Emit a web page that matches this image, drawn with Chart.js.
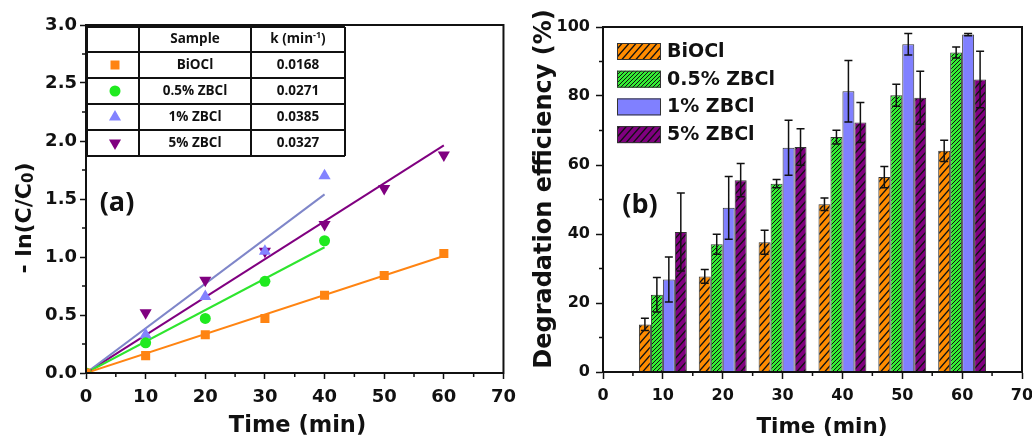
<!DOCTYPE html>
<html>
<head>
<meta charset="utf-8">
<script src="https://cdn.jsdelivr.net/npm/chart.js@4.4.1/dist/chart.umd.min.js"></script>
<style>
  html, body { margin: 0; padding: 0; background: #fff; overflow: hidden; }
  #wrap { position: relative; width: 1032px; height: 440px; }
  canvas { position: absolute; top: 0; }
  #rateChart { left: 0; }
  #effChart { left: 520px; }
</style>
</head>
<body>
<div id="wrap">
  <canvas id="rateChart" width="524" height="440"></canvas>
  <canvas id="effChart" width="530" height="440"></canvas>
</div>
<script>
// sample names (shared by both panels)
const samples = ['BiOCl', '0.5% ZBCl', '1% ZBCl', '5% ZBCl'];

// panel (a): -ln(C/C0) vs time
const times = [0, 10, 20, 30, 40, 50, 60];
const lnBiOCl = [0, 0.15, 0.33, 0.47, 0.67, 0.84, 1.03];
const ln05 = [0, 0.26, 0.47, 0.79, 1.14];
const ln1 = [0, 0.33, 0.66, 1.05, 1.70];
const ln5 = [0, 0.52, 0.80, 1.05, 1.28, 1.59, 1.88];
const rateK = [0.0168, 0.0271, 0.0385, 0.0327];
const fitEnd = [60, 40, 40, 60];
const rateXTicks = [0, 10, 20, 30, 40, 50, 60, 70];
const rateYTicks = [0, 0.5, 1.0, 1.5, 2.0, 2.5, 3.0];

// panel (b): degradation efficiency (%) with error bars
const groupTimes = [10, 20, 30, 40, 50, 60];
const effBiOCl = [13.8, 27.7, 37.6, 48.6, 56.5, 64.1];
const errBiOCl = [1.8, 2.0, 3.5, 1.8, 3.1, 3.1];
const eff05 = [22.4, 37.0, 54.6, 68.1, 80.2, 92.6];
const err05 = [5.0, 2.9, 1.2, 2.0, 3.2, 1.6];
const eff1 = [26.8, 47.6, 65.0, 81.4, 95.0, 97.8];
const err1 = [6.5, 9.1, 8.0, 8.9, 3.1, 0.3];
const eff5 = [40.6, 55.6, 65.2, 72.3, 79.5, 84.8];
const err5 = [11.3, 4.8, 5.3, 5.8, 7.7, 8.2];
const effXTicks = [0, 10, 20, 30, 40, 50, 60, 70];
const effYTicks = [0, 20, 40, 60, 80, 100];

const markColors = ['#ff8412', '#1fea1f', '#8383ff', '#800080'];
const fitColors = ['#ff8412', '#2ee52e', '#7f86c9', '#800080'];
const barColors = ['#ff8c00', '#33ee33', '#8080ff', '#800080'];
const INK = '#111';
const TICK_FONT_A = { family: 'DejaVu Sans', weight: 'bold', size: 18 };
const TICK_FONT_B = { family: 'DejaVu Sans', weight: 'bold', size: 16 };

function pts(xs, ys) {
  return ys.map((y, i) => ({ x: xs[i], y: y }));
}

// diagonal hatch fill: lines x/w + y/h = n
function hatch(bg, w, h, lw) {
  const c = document.createElement('canvas');
  c.width = w; c.height = h;
  const g = c.getContext('2d');
  g.fillStyle = bg;
  g.fillRect(0, 0, w, h);
  g.strokeStyle = INK;
  g.lineWidth = lw;
  g.beginPath();
  for (let n = -1; n <= 2; n++) {
    g.moveTo(-w, h * (n + 1));
    g.lineTo(2 * w, h * (n - 2));
  }
  g.stroke();
  return g.createPattern(c, 'repeat');
}

function axis(tickVals, fmt, font, tickLen, pad, fitSize, isX) {
  return {
    type: 'linear',
    min: tickVals[0],
    max: tickVals[tickVals.length - 1],
    offset: false,
    afterBuildTicks: s => { s.ticks = tickVals.map(v => ({ value: v })); },
    afterFit: s => { if (isX) s.height = fitSize; else s.width = fitSize; },
    ticks: { font: font, color: INK, padding: pad, maxRotation: 0, autoSkip: false, callback: fmt },
    grid: { drawOnChartArea: false, drawTicks: true, tickLength: tickLen, color: INK, tickWidth: 1.5, offset: false },
    border: { display: true, color: INK, width: 2 }
  };
}

// frame round the plot area plus short minor ticks halfway between majors
function drawFrame(chart, minorLen) {
  const { ctx, chartArea: a } = chart;
  const xs = chart.scales.x, ys = chart.scales.y;
  ctx.save();
  ctx.strokeStyle = INK;
  ctx.lineWidth = 1.5;
  ctx.beginPath();
  for (let i = 0; i < xs.ticks.length - 1; i++) {
    const px = xs.getPixelForValue((xs.ticks[i].value + xs.ticks[i + 1].value) / 2);
    ctx.moveTo(px, a.bottom); ctx.lineTo(px, a.bottom + minorLen);
  }
  for (let i = 0; i < ys.ticks.length - 1; i++) {
    const py = ys.getPixelForValue((ys.ticks[i].value + ys.ticks[i + 1].value) / 2);
    ctx.moveTo(a.left, py); ctx.lineTo(a.left - minorLen, py);
  }
  ctx.stroke();
  ctx.lineWidth = 2;
  ctx.strokeRect(a.left, a.top, a.right - a.left, a.bottom - a.top);
  ctx.restore();
}

// draws a run of [text, font, shift] pieces centred on 0
function drawRun(ctx, parts) {
  let total = 0;
  parts.forEach(p => { ctx.font = p[1]; total += ctx.measureText(p[0]).width; });
  let x = -total / 2;
  parts.forEach(p => {
    ctx.font = p[1];
    ctx.fillText(p[0], x, p[2]);
    x += ctx.measureText(p[0]).width;
  });
}

function drawMarker(ctx, i, x, y) {
  ctx.fillStyle = markColors[i];
  ctx.beginPath();
  if (i === 0) {
    ctx.rect(x - 4.5, y - 4.5, 9, 9);
  } else if (i === 1) {
    ctx.arc(x, y, 5.5, 0, Math.PI * 2);
  } else {
    const r = 7, s = i === 2 ? 1 : -1;
    ctx.moveTo(x, y - s * r);
    ctx.lineTo(x + r * 0.866, y + s * r / 2);
    ctx.lineTo(x - r * 0.866, y + s * r / 2);
    ctx.closePath();
  }
  ctx.fill();
}

// ---------- panel (a) ----------
const rateSeries = [lnBiOCl, ln05, ln1, ln5];
const pointStyles = ['rect', 'circle', 'triangle', 'triangle'];
const pointRadii = [6.4, 5.5, 7, 7];
const pointRot = [0, 0, 0, 180];

const rateSets = rateSeries.map((ys, i) => ({
  label: samples[i],
  data: pts(times, ys),
  pointStyle: pointStyles[i],
  pointRadius: pointRadii[i],
  pointRotation: pointRot[i],
  pointBackgroundColor: markColors[i],
  pointBorderColor: markColors[i],
  pointBorderWidth: 0,
  showLine: false
}));
rateK.forEach((k, i) => {
  rateSets.push({
    label: samples[i] + ' fit',
    data: [{ x: 0, y: 0 }, { x: fitEnd[i], y: k * fitEnd[i] }],
    showLine: true,
    borderColor: fitColors[i],
    borderWidth: 2,
    pointRadius: 0
  });
});

const rateDecor = {
  id: 'rateDecor',
  afterDraw(chart) {
    const ctx = chart.ctx;
    drawFrame(chart, 4);
    ctx.save();
    ctx.fillStyle = INK;
    ctx.textAlign = 'left';
    ctx.textBaseline = 'middle';
    // axis titles
    ctx.save();
    ctx.translate(297.5, 426);
    drawRun(ctx, [['Time (min)', 'bold 22.5px "DejaVu Sans"', 0]]);
    ctx.restore();
    ctx.save();
    ctx.translate(25, 218);
    ctx.rotate(-Math.PI / 2);
    drawRun(ctx, [['- ln(C/C', 'bold 22px "DejaVu Sans"', 0], ['0', 'bold 15px "DejaVu Sans"', 4], [')', 'bold 22px "DejaVu Sans"', 0]]);
    ctx.restore();
    // panel tag
    ctx.save();
    ctx.translate(117, 203);
    drawRun(ctx, [['(a)', 'bold 27px "Open Sans"', 0]]);
    ctx.restore();

    // rate constant table
    const cols = [87, 139, 251, 345];
    const rows = [27, 52, 78, 104, 130, 156];
    ctx.fillStyle = '#fff';
    ctx.fillRect(cols[0], rows[0], cols[3] - cols[0], rows[5] - rows[0]);
    ctx.strokeStyle = INK;
    ctx.lineWidth = 2;
    ctx.beginPath();
    cols.forEach(c => { ctx.moveTo(c, rows[0]); ctx.lineTo(c, rows[5]); });
    rows.forEach(r => { ctx.moveTo(cols[0], r); ctx.lineTo(cols[3], r); });
    ctx.stroke();
    const mid = (a, b) => (a + b) / 2;
    const main = 'bold 13.5px "Open Sans"';
    ctx.fillStyle = INK;
    ctx.save();
    ctx.translate(mid(cols[1], cols[2]), mid(rows[0], rows[1]));
    drawRun(ctx, [['Sample', main, 0]]);
    ctx.restore();
    ctx.save();
    ctx.translate(mid(cols[2], cols[3]), mid(rows[0], rows[1]));
    drawRun(ctx, [['k (min', main, 0], ['-1', 'bold 9px "Open Sans"', -4], [')', main, 0]]);
    ctx.restore();
    samples.forEach((name, i) => {
      const cy = mid(rows[i + 1], rows[i + 2]);
      drawMarker(ctx, i, 115, cy);
      ctx.fillStyle = INK;
      ctx.save();
      ctx.translate(mid(cols[1], cols[2]), cy);
      drawRun(ctx, [[name, main, 0]]);
      ctx.restore();
      ctx.save();
      ctx.translate(mid(cols[2], cols[3]), cy);
      drawRun(ctx, [[rateK[i].toFixed(4), main, 0]]);
      ctx.restore();
    });
    ctx.restore();
  }
};

new Chart(document.getElementById('rateChart'), {
  type: 'scatter',
  data: { datasets: rateSets },
  options: {
    responsive: false,
    animation: false,
    layout: { padding: { left: 0, top: 25, right: 15, bottom: 0 } },
    plugins: { legend: { display: false }, tooltip: { enabled: false } },
    scales: {
      x: axis(rateXTicks, v => String(v), TICK_FONT_A, 6, 8, 67, true),
      y: axis(rateYTicks, v => v.toFixed(1), TICK_FONT_A, 6, 3, 86, false)
    }
  },
  plugins: [rateDecor]
});

// ---------- panel (b) ----------
const effSeries = [effBiOCl, eff05, eff1, eff5];
const errSeries = [errBiOCl, err05, err1, err5];
const fills = [
  hatch(barColors[0], 7, 8, 1.4),
  hatch(barColors[1], 4, 4, 1),
  barColors[2],
  hatch(barColors[3], 7, 8, 1.4)
];

const effDecor = {
  id: 'effDecor',
  afterDatasetsDraw(chart) {
    const ctx = chart.ctx, ys = chart.scales.y;
    ctx.save();
    ctx.strokeStyle = INK;
    ctx.lineWidth = 1.5;
    ctx.beginPath();
    effSeries.forEach((vals, d) => {
      const meta = chart.getDatasetMeta(d);
      vals.forEach((v, j) => {
        const x = meta.data[j].x;
        const top = ys.getPixelForValue(v + errSeries[d][j]);
        const bot = ys.getPixelForValue(v - errSeries[d][j]);
        ctx.moveTo(x, top); ctx.lineTo(x, bot);
        ctx.moveTo(x - 4, top); ctx.lineTo(x + 4, top);
        ctx.moveTo(x - 4, bot); ctx.lineTo(x + 4, bot);
      });
    });
    ctx.stroke();
    ctx.restore();
  },
  afterDraw(chart) {
    const ctx = chart.ctx;
    drawFrame(chart, 4);
    ctx.save();
    ctx.fillStyle = INK;
    ctx.textAlign = 'left';
    ctx.textBaseline = 'middle';
    ctx.save();
    ctx.translate(302, 427);
    drawRun(ctx, [['Time (min)', 'bold 21.5px "DejaVu Sans"', 0]]);
    ctx.restore();
    ctx.save();
    ctx.translate(25, 189);
    ctx.rotate(-Math.PI / 2);
    drawRun(ctx, [['Degradation efficiency (%)', 'bold 24px "DejaVu Sans"', 0]]);
    ctx.restore();
    ctx.save();
    ctx.translate(120, 205);
    drawRun(ctx, [['(b)', 'bold 27px "Open Sans"', 0]]);
    ctx.restore();
    // legend
    samples.forEach((name, i) => {
      const top = 43 + i * 27.7;
      ctx.fillStyle = fills[i];
      ctx.fillRect(97, top, 44, 17);
      ctx.strokeStyle = '#333';
      ctx.lineWidth = 1;
      ctx.strokeRect(97.5, top + 0.5, 43, 16);
      ctx.fillStyle = INK;
      ctx.font = 'bold 19px "DejaVu Sans"';
      ctx.fillText(name, 147, top + 9);
    });
    ctx.restore();
  }
};

new Chart(document.getElementById('effChart'), {
  type: 'bar',
  data: {
    datasets: effSeries.map((vals, i) => ({
      label: samples[i],
      data: pts(groupTimes, vals),
      backgroundColor: fills[i],
      borderColor: '#333',
      borderWidth: 1,
      categoryPercentage: 0.8,
      barPercentage: 1.0
    }))
  },
  options: {
    responsive: false,
    animation: false,
    layout: { padding: { left: 0, top: 27, right: 28, bottom: 0 } },
    plugins: { legend: { display: false }, tooltip: { enabled: false } },
    scales: {
      x: axis(effXTicks, v => String(v), TICK_FONT_B, 7, 7, 68, true),
      y: axis(effYTicks, v => String(v), TICK_FONT_B, 7, 6, 83, false)
    }
  },
  plugins: [effDecor]
});
</script>
</body>
</html>
